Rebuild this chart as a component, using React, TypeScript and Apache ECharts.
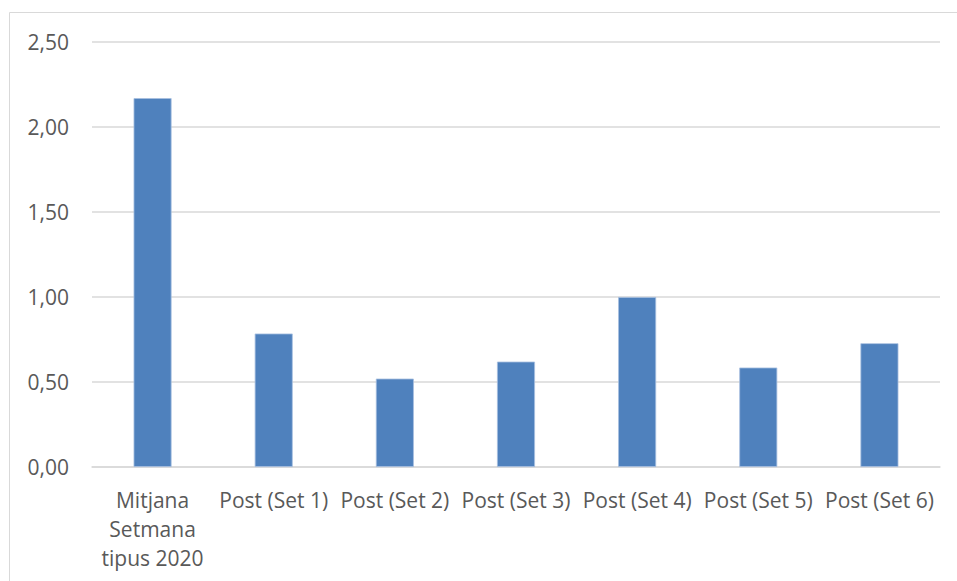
import React, { useEffect, useRef } from "react";
import * as echarts from "echarts";

const categories = [
  "Mitjana\nSetmana\ntipus 2020",
  "Post (Set 1)",
  "Post (Set 2)",
  "Post (Set 3)",
  "Post (Set 4)",
  "Post (Set 5)",
  "Post (Set 6)",
];
const values = [2.17, 0.785, 0.52, 0.62, 1.0, 0.585, 0.728];
const yMin = 0;
const yMax = 2.5;
const yStep = 0.5;

export default function App() {
  const ref = useRef<HTMLDivElement>(null);
  useEffect(() => {
    if (!ref.current) return;
    const chart = echarts.init(ref.current, null, { renderer: "svg" });
    const font = "'Open Sans', 'Noto Sans', sans-serif";
    chart.setOption({
      animation: false,
      backgroundColor: "#ffffff",
      textStyle: { fontFamily: font },
      graphic: [
        {
          type: "rect",
          shape: { x: 9.5, y: 12.5, width: 1000, height: 700 },
          style: { fill: "none", stroke: "#d9d9d9", lineWidth: 1 },
          silent: true,
        },
      ],
      grid: { left: 92, right: 17, top: 42, bottom: 114, containLabel: false },
      xAxis: {
        type: "category",
        data: categories,
        axisLine: { show: true, lineStyle: { color: "#d9d9d9", width: 1.5 } },
        axisTick: { show: false },
        axisLabel: {
          color: "#595959",
          fontSize: 21,
          fontFamily: font,
          lineHeight: 29,
          margin: 18,
          interval: 0,
        },
      },
      yAxis: {
        type: "value",
        min: yMin,
        max: yMax,
        interval: yStep,
        axisLine: { show: false },
        axisTick: { show: false },
        splitLine: { lineStyle: { color: "#d9d9d9", width: 1.5 } },
        axisLabel: {
          color: "#595959",
          fontSize: 21,
          fontFamily: font,
          margin: 23,
          formatter: (v: number) => v.toFixed(2).replace(".", ","),
        },
      },
      series: [
        {
          type: "bar",
          data: values,
          barWidth: 38,
          itemStyle: {
            color: "#4f81bd",
            borderColor: "#a7bfdf",
            borderWidth: 0.8,
          },
        },
      ],
    });
    return () => chart.dispose();
  }, []);
  return (
    <div
      ref={ref}
      style={{ position: "fixed", left: 0, top: 0, width: 957, height: 581 }}
    />
  );
}
